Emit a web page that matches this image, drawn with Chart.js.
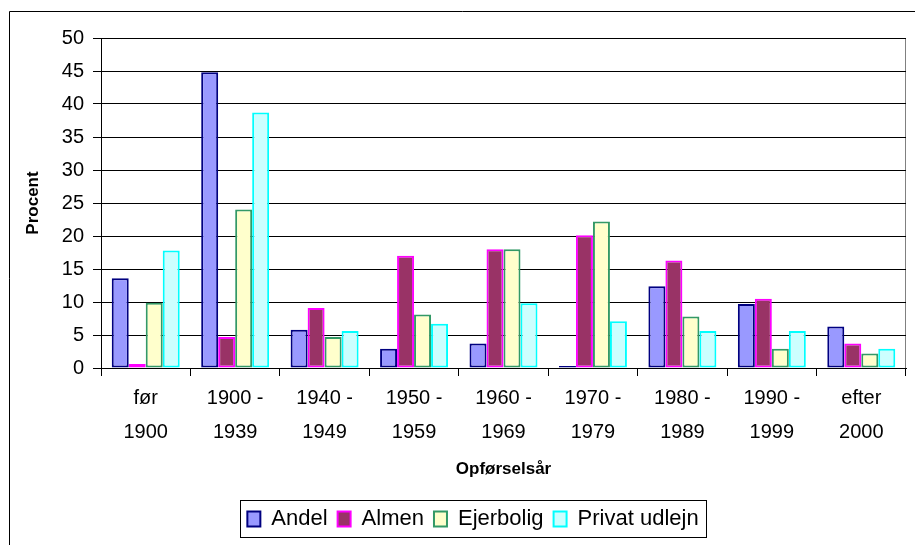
<!DOCTYPE html>
<html>
<head>
<meta charset="utf-8">
<script src="https://cdn.jsdelivr.net/npm/chart.js@4.4.1/dist/chart.umd.min.js"></script>
<style>
  html, body { margin: 0; padding: 0; background: #fff; }
  #wrap { width: 915px; height: 545px; position: relative; }
</style>
</head>
<body>
<div id="wrap"><canvas id="boligChart"></canvas></div>
<script>
// data
const categories = [
    ['før', '1900'], ['1900 -', '1939'], ['1940 -', '1949'], ['1950 -', '1959'],
    ['1960 -', '1969'], ['1970 -', '1979'], ['1980 -', '1989'], ['1990 -', '1999'], ['efter', '2000']
];
const andel = [13.6, 44.8, 5.8, 2.9, 3.7, 0.3, 12.4, 9.7, 6.3];
const almen = [0.6, 4.7, 9.1, 17.0, 18.0, 20.1, 16.3, 10.5, 3.7];
const ejerbolig = [9.9, 24.0, 4.7, 8.1, 18.0, 22.2, 7.8, 2.9, 2.2];
const privatUdlejn = [17.8, 38.7, 5.6, 6.7, 9.8, 7.1, 5.6, 5.6, 2.9];
const yTicks = { min: 0, max: 50, step: 5 };

const FONT = "'Liberation Sans', Arial, sans-serif";

// ramme om hele diagrammet og om forklaringen
const framePlugin = {
    id: 'frame',
    afterDraw(chart) {
        const ctx = chart.ctx;
        ctx.save();
        ctx.strokeStyle = '#000';
        ctx.lineWidth = 1;
        ctx.beginPath();
        ctx.moveTo(9.5, 545);
        ctx.lineTo(9.5, 11.5);
        ctx.lineTo(915, 11.5);
        ctx.stroke();

        const boxes = chart.legend.legendHitBoxes;
        if (boxes && boxes.length) {
            const x1 = Math.min(...boxes.map(b => b.left)) - 7;
            const x2 = Math.max(...boxes.map(b => b.left + b.width)) + 8;
            const y1 = boxes[0].top - 8;
            const y2 = boxes[0].top + boxes[0].height + 7;
            ctx.strokeRect(Math.round(x1) + 0.5, Math.round(y1) + 0.5, Math.round(x2 - x1), Math.round(y2 - y1));
        }
        ctx.restore();
    }
};

function makeSet(label, values, fill, edge) {
    return {
        label: label,
        data: values,
        backgroundColor: fill,
        borderColor: edge,
        borderWidth: 2,
        borderSkipped: false
    };
}

document.addEventListener('DOMContentLoaded', function() {
    const ctx = document.getElementById('boligChart').getContext('2d');
    new Chart(ctx, {
        type: 'bar',
        data: {
            labels: categories,
            datasets: [
                makeSet('Andel', andel, '#9999FF', '#000080'),
                makeSet('Almen', almen, '#993366', '#FF00FF'),
                makeSet('Ejerbolig', ejerbolig, '#FFFFCC', '#339966'),
                makeSet('Privat udlejn', privatUdlejn, '#CCFFFF', '#00FFFF')
            ]
        },
        options: {
            responsive: true,
            maintainAspectRatio: false,
            animation: false,
            devicePixelRatio: 1,
            categoryPercentage: 0.76,
            barPercentage: 1.0,
            // venstre padding flytter forklaringen mod højre som i originalen
            layout: { padding: { top: 38, left: 40, right: 9, bottom: 5 } },
            plugins: {
                tooltip: { enabled: false },
                legend: {
                    position: 'bottom',
                    labels: {
                        color: '#000',
                        font: { family: FONT, size: 22 },
                        boxWidth: 13,
                        boxHeight: 15,
                        padding: 10
                    }
                }
            },
            scales: {
                x: {
                    afterFit(scale) { scale.height = 130; },
                    grid: {
                        offset: true,
                        drawOnChartArea: true,
                        color: c => c.index === undefined ? '#808080' : 'rgba(0,0,0,0)',
                        tickColor: '#000',
                        tickLength: 8
                    },
                    border: { display: true, color: '#000', width: 1 },
                    ticks: {
                        color: '#000',
                        padding: 5,
                        maxRotation: 0,
                        autoSkip: false,
                        font: { family: FONT, size: 20, lineHeight: 1.7 }
                    },
                    title: {
                        display: true,
                        text: 'Opførselsår',
                        color: '#000',
                        font: { family: FONT, size: 17, weight: 'bold' },
                        padding: { top: 0, bottom: 18 }
                    }
                },
                y: {
                    min: yTicks.min,
                    max: yTicks.max,
                    afterFit(scale) { scale.width = 61; },
                    grid: {
                        color: '#000',
                        tickColor: '#000',
                        tickLength: 8
                    },
                    border: { display: true, color: '#000', width: 1 },
                    ticks: {
                        stepSize: yTicks.step,
                        color: '#000',
                        padding: 9,
                        font: { family: FONT, size: 20 }
                    },
                    title: {
                        display: true,
                        text: 'Procent',
                        color: '#000',
                        font: { family: FONT, size: 17, weight: 'bold' },
                        padding: { top: -17, bottom: 0 }
                    }
                }
            }
        },
        plugins: [framePlugin]
    });
});
</script>
</body>
</html>
